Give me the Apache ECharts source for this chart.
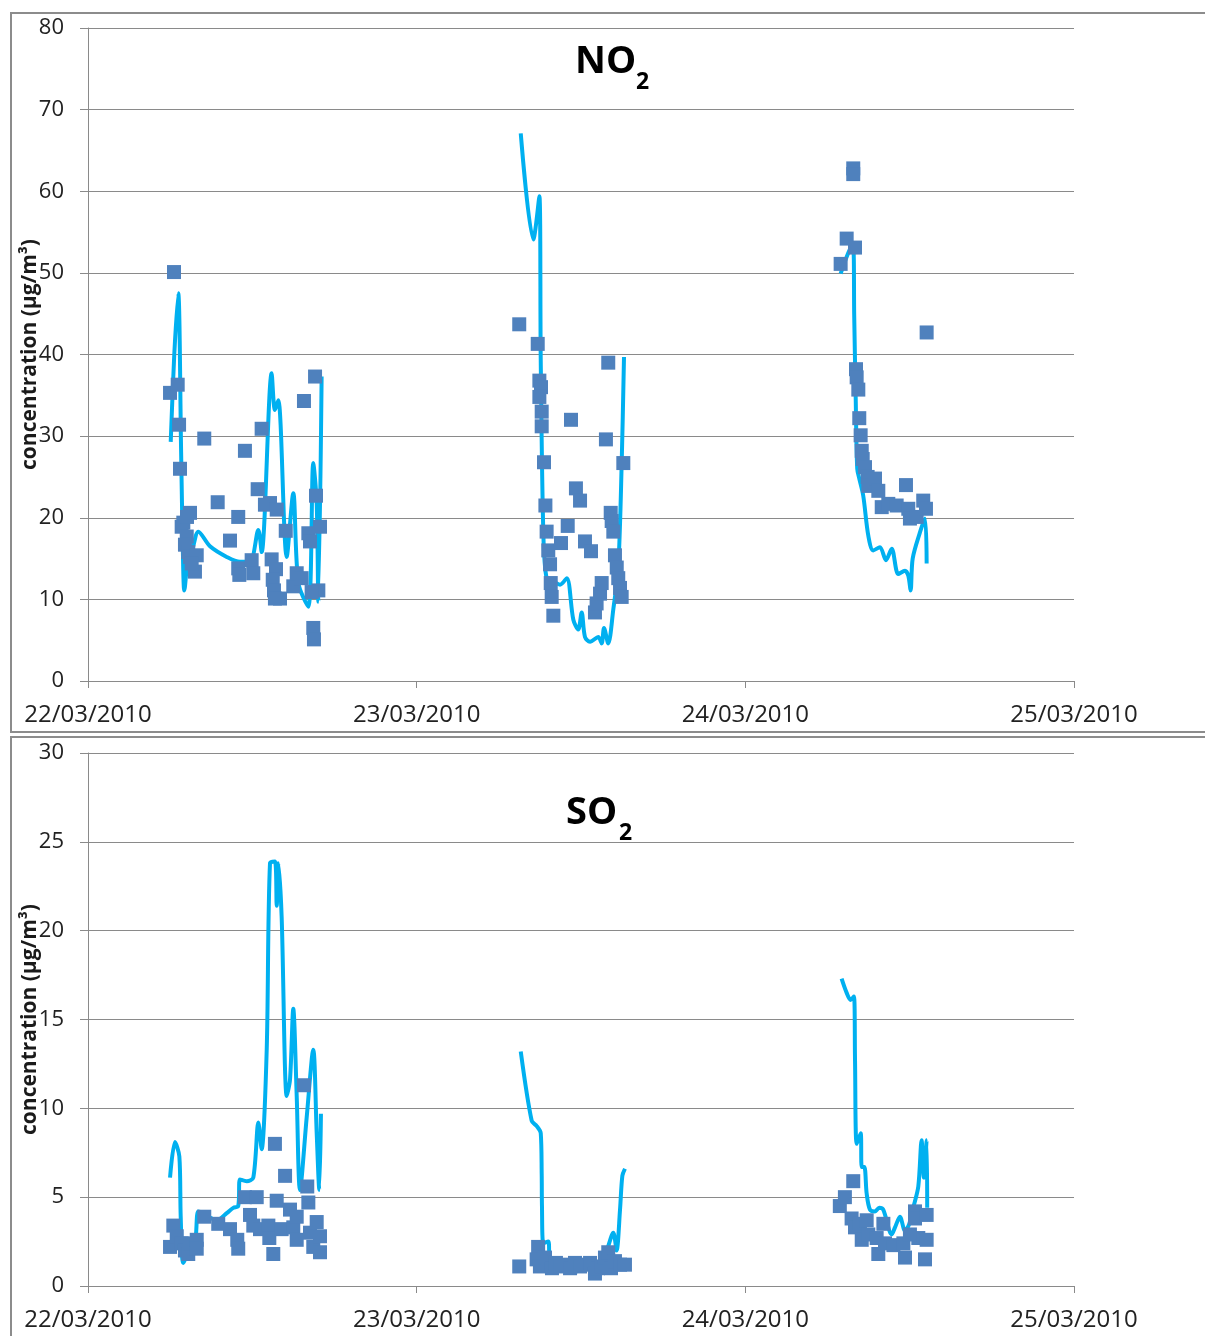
<!DOCTYPE html>
<html>
<head>
<meta charset="utf-8">
<script src="https://cdn.jsdelivr.net/npm/echarts@6/dist/echarts.min.js"></script>
<style>
html,body{margin:0;padding:0;background:#fff;}
#chart{width:1205px;height:1336px;}
</style>
</head>
<body>
<div id="chart"></div>
<script>
// hours since 22/03/2010 00:00
const xTickLabels = ['22/03/2010', '23/03/2010', '24/03/2010', '25/03/2010'];
const yAxisName = 'concentration (µg/m³)';
const titles = [['NO', '2'], ['SO', '2']];

// ---- NO2 measured (squares) ----
const no2Meas1 = [[6.28,50.1],[5.99,35.3],[6.55,36.3],[6.65,31.4],[6.72,26.0],[6.96,19.4],[7.45,20.6],[6.84,18.9],[7.21,17.7],[7.08,16.7],[7.32,15.8],[7.45,15.2],[7.94,15.4],[7.81,13.4],[7.57,14.4],[7.23,20.1],[8.49,29.7],[9.47,21.9],[10.37,17.2],[10.97,20.1],[11.46,28.2],[10.97,13.8],[11.05,13.0],[11.95,14.8],[12.07,13.2],[12.68,30.9],[12.39,23.5],[12.92,21.6],[13.29,21.8],[13.78,21.0],[14.44,18.4],[13.41,14.9],[13.73,13.7],[13.49,12.4],[13.58,11.1],[13.65,10.1],[14.02,10.1],[14.99,11.6],[15.24,13.2],[15.60,12.6],[15.77,34.3],[16.09,18.1],[16.21,17.1],[16.58,37.3],[16.65,22.7],[16.94,18.9],[16.82,11.1],[16.33,10.9],[16.45,6.5],[16.50,5.1]];
const no2Meas2 = [[31.49,43.7],[32.84,41.3],[32.96,36.8],[33.08,36.0],[32.96,34.8],[33.13,33.0],[33.13,31.2],[33.30,26.8],[33.40,21.5],[33.49,18.3],[33.61,16.0],[33.74,14.3],[33.79,12.0],[33.86,10.3],[33.98,8.0],[34.54,16.9],[35.03,19.0],[35.27,32.0],[35.63,23.6],[35.93,22.1],[36.29,17.1],[36.73,15.9],[37.02,8.4],[37.14,9.5],[37.39,10.7],[37.51,12.0],[37.82,29.6],[37.99,39.0],[38.17,20.6],[38.24,19.6],[38.36,18.3],[38.48,15.4],[38.61,13.9],[38.72,12.6],[38.85,11.4],[38.97,10.3],[39.09,26.7]];
const no2Meas3 = [[55.88,62.8],[55.88,62.1],[55.40,54.2],[56.01,53.1],[54.96,51.1],[61.24,42.7],[56.08,38.2],[56.13,37.2],[56.25,35.7],[56.32,32.2],[56.42,30.1],[56.50,28.2],[56.57,27.2],[56.74,26.2],[56.93,25.0],[56.98,23.9],[57.47,24.8],[57.71,23.3],[57.96,21.3],[58.44,21.7],[59.05,21.5],[59.73,24.0],[59.90,21.1],[60.02,19.9],[60.51,20.1],[60.99,22.1],[61.19,21.1]];

// ---- NO2 modelled (line) ----
const no2Model1 = [[6.04,29.3],[6.30,40.0],[6.59,47.5],[6.80,28.0],[6.95,14.0],[7.03,11.1],[7.30,15.0],[7.60,16.0],[8.06,18.3],[8.91,16.5],[10.13,15.2],[11.10,14.6],[11.83,14.6],[12.44,18.5],[12.68,15.8],[13.41,37.7],[13.65,33.2],[13.90,34.4],[14.51,15.2],[14.99,23.0],[15.36,12.0],[16.09,9.1],[16.45,26.7],[16.70,21.8],[16.82,9.7],[17.06,37.3]];
const no2Model2 = [[31.60,67.1],[32.52,54.1],[32.96,59.4],[33.06,39.3],[33.25,18.1],[33.49,12.6],[33.98,12.2],[34.47,11.8],[34.96,12.6],[35.44,7.5],[35.80,6.3],[36.05,8.4],[36.29,5.4],[36.66,4.8],[37.26,5.4],[37.51,4.6],[37.68,6.5],[37.99,4.6],[38.36,8.8],[38.72,13.9],[38.97,26.6],[39.14,39.7]];
const no2Model3 = [[54.96,49.9],[55.64,52.9],[55.88,53.1],[55.95,44.8],[56.06,34.6],[56.17,26.0],[56.32,24.8],[56.61,22.7],[56.98,17.8],[57.34,16.0],[57.83,16.4],[58.27,14.8],[58.69,16.2],[59.17,13.1],[59.66,13.5],[59.90,12.9],[60.07,11.1],[60.22,15.0],[60.75,18.2],[61.12,19.9],[61.24,14.4]];

// ---- SO2 measured (squares) ----
const so2Meas1 = [[5.99,2.2],[6.23,3.4],[6.48,2.8],[6.84,2.4],[7.08,2.0],[7.32,1.8],[7.45,2.4],[7.94,2.6],[7.94,2.1],[8.49,3.9],[9.51,3.5],[10.37,3.2],[10.90,2.6],[10.97,2.1],[11.46,5.0],[12.32,5.0],[11.83,4.0],[12.07,3.4],[12.56,3.2],[13.17,3.4],[13.24,2.7],[13.53,1.8],[13.65,8.0],[13.78,4.8],[14.14,3.2],[14.39,6.2],[14.75,4.3],[14.99,3.3],[15.24,3.9],[15.24,2.6],[15.77,11.3],[16.01,5.6],[16.09,4.7],[16.21,3.0],[16.45,2.2],[16.70,3.6],[16.94,2.8],[16.94,1.9]];
const so2Meas2 = [[31.49,1.1],[32.87,2.2],[32.76,1.5],[33.00,1.1],[33.37,1.6],[33.59,1.2],[33.88,1.0],[34.17,1.3],[34.47,1.1],[34.83,1.2],[35.20,1.0],[35.56,1.3],[35.93,1.1],[36.29,1.2],[36.66,1.3],[37.02,0.7],[37.24,1.0],[37.53,1.1],[37.75,1.6],[37.99,1.9],[38.19,1.0],[38.48,1.4],[38.85,1.2],[39.21,1.2]];
const so2Meas3 = [[54.90,4.5],[55.27,5.0],[55.88,5.9],[55.76,3.8],[56.01,3.3],[56.50,2.6],[56.37,3.5],[56.86,3.7],[56.98,2.9],[57.71,1.8],[57.59,2.7],[58.08,3.5],[58.20,2.4],[58.81,2.3],[59.54,2.4],[59.66,1.6],[60.39,4.2],[60.39,3.8],[60.63,2.7],[61.12,1.5],[61.24,4.0],[61.24,2.6],[60.02,2.9]];

// ---- SO2 modelled (line) ----
const so2Model1 = [[5.99,6.1],[6.35,8.1],[6.67,7.3],[6.77,3.9],[6.96,1.3],[7.40,2.0],[7.81,2.4],[8.05,4.2],[8.42,4.1],[9.40,3.7],[10.13,4.1],[10.61,4.4],[10.97,4.5],[11.10,6.0],[11.59,5.9],[12.07,6.1],[12.44,9.2],[12.68,7.7],[13.05,13.3],[13.29,23.8],[13.65,23.9],[13.78,21.4],[13.90,23.8],[14.14,20.8],[14.51,10.7],[14.75,11.6],[14.99,15.6],[15.24,10.7],[15.48,5.4],[15.97,9.5],[16.45,13.3],[16.70,8.6],[16.89,5.4],[17.01,9.7]];
const so2Model2 = [[31.60,13.2],[32.40,9.3],[32.77,9.0],[33.06,8.6],[33.13,6.3],[33.15,4.5],[33.25,2.4],[33.61,2.5],[33.74,1.3],[34.47,1.1],[35.44,0.8],[36.41,1.0],[37.39,1.2],[37.88,2.0],[38.36,3.0],[38.60,2.0],[38.85,4.3],[39.02,6.2],[39.21,6.6]];
const so2Model3 = [[55.03,17.3],[55.40,16.5],[55.69,16.1],[55.93,16.3],[56.01,12.7],[56.13,8.0],[56.42,8.6],[56.50,6.7],[56.69,6.7],[56.86,5.2],[57.10,4.3],[57.47,4.2],[57.78,4.4],[58.07,4.3],[58.69,2.9],[58.93,3.3],[59.29,3.9],[59.66,3.1],[59.97,3.5],[60.26,4.4],[60.63,5.6],[60.87,8.2],[61.04,6.1],[61.24,8.2],[61.28,4.4]];

const no2Meas = [no2Meas1, no2Meas2, no2Meas3];
const no2Model = [no2Model1, no2Model2, no2Model3];
const so2Meas = [so2Meas1, so2Meas2, so2Meas3];
const so2Model = [so2Model1, so2Model2, so2Model3];

const FONT = '"Open Sans", "Noto Sans", sans-serif';
const GRID_C = '#8a8a8a';
const LINE_C = '#00B0F0';
const SQ_C = '#4F81BD';

function xAxisFor(gi) {
  return {
    type: 'value', gridIndex: gi, min: 0, max: 72, interval: 24,
    axisLine: { show: true, lineStyle: { color: GRID_C, width: 1 } },
    axisTick: { show: true, length: 7, lineStyle: { color: GRID_C } },
    splitLine: { show: false },
    axisLabel: {
      margin: 22, fontFamily: FONT, fontSize: 24, color: '#222',
      formatter: v => xTickLabels[Math.round(v / 24)]
    }
  };
}
function yAxisFor(gi, max, interval) {
  return {
    type: 'value', gridIndex: gi, min: 0, max: max, interval: interval,
    name: yAxisName, nameLocation: 'middle', nameGap: 47, nameMoveOverlap: false,
    nameTextStyle: { fontFamily: FONT, fontSize: 21, fontWeight: 'bold', color: '#1a1a1a' },
    axisLine: { show: true, lineStyle: { color: GRID_C, width: 1 } },
    axisTick: { show: true, length: 8, lineStyle: { color: GRID_C } },
    splitLine: { show: true, lineStyle: { color: GRID_C, width: 1 } },
    axisLabel: { margin: 24, fontFamily: FONT, fontSize: 22, color: '#222' }
  };
}

const series = [];
function addPanel(gi, model, meas) {
  model.forEach(d => series.push({
    type: 'line', xAxisIndex: gi, yAxisIndex: gi, data: d, smooth: 0.3,
    showSymbol: false, symbol: 'none', lineStyle: { color: LINE_C, width: 4 }, z: 2, silent: true
  }));
  meas.forEach(d => series.push({
    type: 'scatter', xAxisIndex: gi, yAxisIndex: gi, data: d,
    symbol: 'rect', symbolSize: 14, itemStyle: { color: SQ_C, opacity: 1 }, z: 3, silent: true
  }));
}
addPanel(0, no2Model, no2Meas);
addPanel(1, so2Model, so2Meas);

function titleEls(t, xLeft, yTop, subDx) {
  return [
    { type: 'text', x: xLeft, y: yTop, style: { text: t[0], font: 'bold 38px ' + FONT, fill: '#000', textAlign: 'left', textVerticalAlign: 'top' } },
    { type: 'text', x: xLeft + subDx, y: yTop + 28, style: { text: t[1], font: 'bold 23px ' + FONT, fill: '#000', textAlign: 'left', textVerticalAlign: 'top' } }
  ];
}

const chart = echarts.init(document.getElementById('chart'), null, { renderer: 'canvas' });
chart.setOption({
  animation: false,
  backgroundColor: '#fff',
  grid: [
    { left: 88, top: 28, width: 986, height: 653, containLabel: false },
    { left: 88, top: 753, width: 986, height: 533, containLabel: false }
  ],
  xAxis: [xAxisFor(0), xAxisFor(1)],
  yAxis: [yAxisFor(0, 80, 10), yAxisFor(1, 30, 5)],
  graphic: [
    { type: 'rect', shape: { x: 11, y: 13, width: 1220, height: 719 }, style: { fill: 'none', stroke: '#8c8c8c', lineWidth: 2 }, z: -10 },
    { type: 'rect', shape: { x: 11, y: 737, width: 1220, height: 640 }, style: { fill: 'none', stroke: '#8c8c8c', lineWidth: 2 }, z: -10 }
  ].concat(titleEls(titles[0], 575, 43, 61)).concat(titleEls(titles[1], 566, 794, 53)),
  series: series
});
</script>
</body>
</html>
